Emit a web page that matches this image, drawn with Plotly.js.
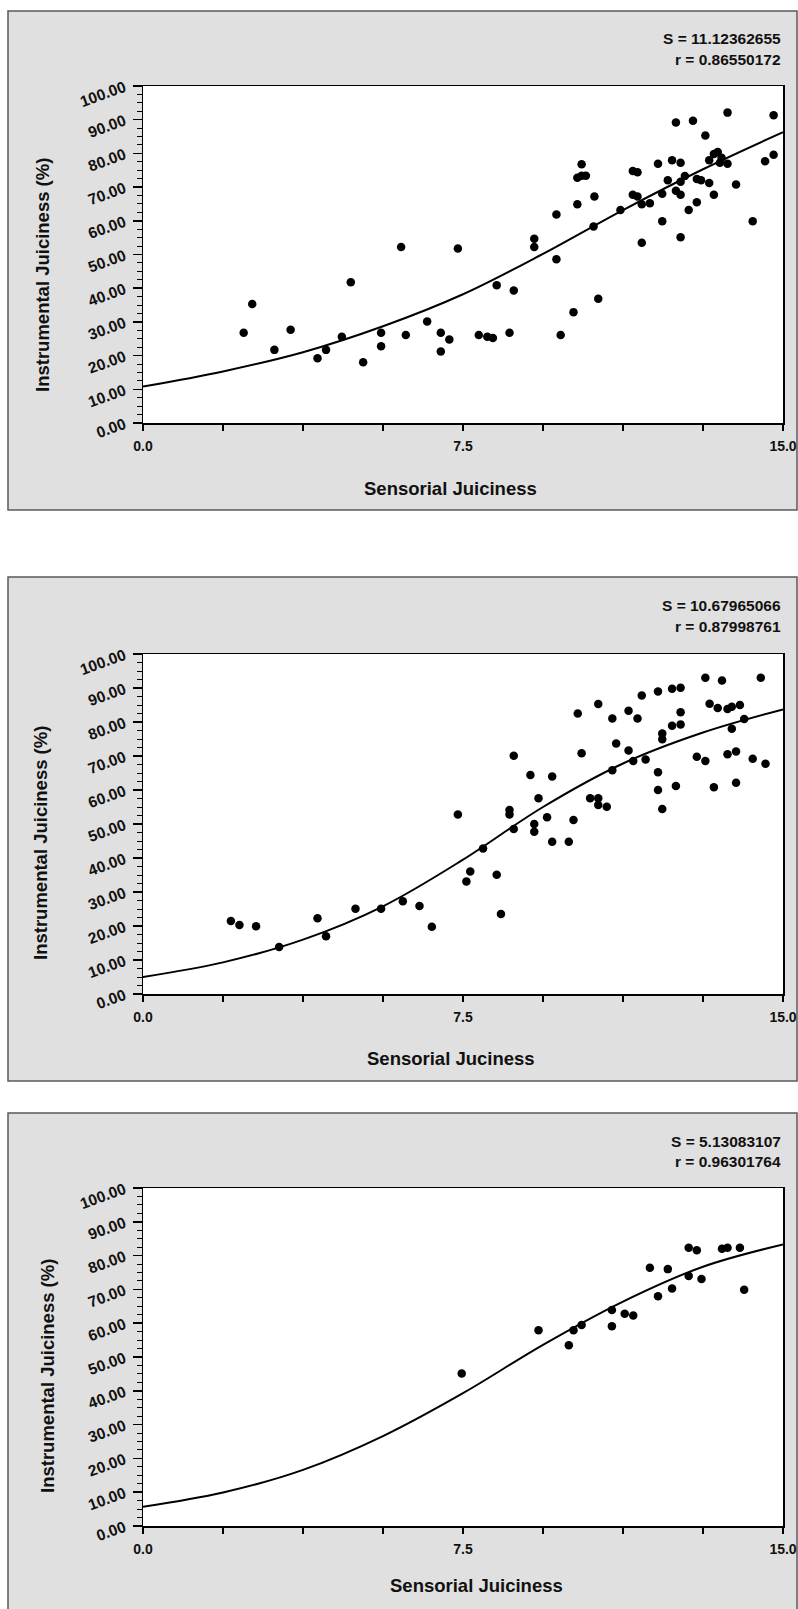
<!DOCTYPE html>
<html>
<head>
<meta charset="utf-8">
<script src="https://cdn.plot.ly/plotly-3.0.1.min.js"></script>
<style>html,body{margin:0;padding:0;background:#fff;}#chart{width:798px;height:1609px;}</style>
</head>
<body>
<div id="chart"></div>
<script>
// ---------- data ----------
const xTickVals = [0, 1.875, 3.75, 5.625, 7.5, 9.375, 11.25, 13.125, 15];
const xTickText = ["0.0", "", "", "", "7.5", "", "", "", "15.0"];

// Panel 1
const p1x = [2.36,2.56,3.08,3.46,4.09,4.29,4.66,4.87,5.16,5.58,
             5.58,6.05,6.16,6.66,6.98,6.98,7.18,7.38,7.87,8.07,
             8.20,8.29,8.59,8.69,9.17,9.17,9.69,9.69,9.79,10.09,
             10.18,10.18,10.28,10.28,10.38,10.58,10.56,10.67,11.19,11.48,
             11.59,11.48,11.59,11.69,11.69,11.88,12.07,12.17,12.17,12.30,
             12.40,12.49,12.49,12.60,12.60,12.60,12.60,12.70,12.79,12.89,
             12.98,12.98,13.08,13.18,13.27,13.27,13.38,13.38,13.47,13.56,
             13.52,13.70,13.70,13.90,14.29,14.58,14.78,14.78];
const p1y = [26.8,35.3,21.7,27.7,19.2,21.7,25.6,41.8,18.0,26.8,
             22.8,52.2,26.1,30.1,26.8,21.2,24.8,51.8,26.1,25.6,
             25.2,40.9,26.8,39.3,54.7,52.2,61.9,48.6,26.1,32.9,
             64.9,72.8,76.8,73.4,73.4,67.2,58.3,36.9,63.2,74.8,
             74.4,67.7,67.2,64.9,53.5,65.2,76.9,68.0,59.9,72.0,
             78.0,89.2,68.9,77.2,71.6,67.7,55.1,73.3,63.2,89.7,
             72.4,65.5,72.0,85.3,71.2,78.0,67.7,79.8,80.4,78.7,
             77.2,92.1,76.9,70.8,59.9,77.7,91.3,79.6];
const fitX = [0, 1.875, 3.75, 5.625, 7.5, 9.375, 11.25, 13.125, 15];
const fit1 = [10.8, 15.3, 21.0, 28.7, 38.2, 50.2, 63.2, 75.3, 86.3];
const stat1 = ["S = 11.12362655", "r = 0.86550172"];

// Panel 2
const p2x = [2.06,2.26,2.65,3.19,4.09,4.29,4.98,5.58,6.09,
             6.48,6.77,7.38,7.58,7.67,7.97,8.29,8.39,8.59,8.59,
             8.69,8.69,9.08,9.17,9.17,9.27,9.47,9.59,9.59,9.98,
             10.09,10.19,10.28,10.48,10.67,10.67,10.67,10.87,11.00,11.00,
             11.09,11.38,11.38,11.49,11.59,11.69,11.78,12.07,12.07,12.07,
             12.17,12.17,12.17,12.40,12.40,12.49,12.60,12.60,12.60,12.98,
             13.18,13.18,13.28,13.38,13.47,13.57,13.70,13.70,13.80,13.80,
             13.90,13.90,13.99,14.09,14.29,14.48,14.59];
const p2y = [21.5,20.3,19.9,13.8,22.3,17.0,25.1,25.1,27.3,
             25.9,19.8,52.8,33.1,36.0,42.8,35.1,23.5,54.1,52.8,
             70.1,48.5,64.4,50.0,47.7,57.6,52.0,64.0,44.8,44.8,
             51.2,82.5,70.8,57.6,85.3,57.6,55.6,55.1,81.0,65.8,
             73.7,83.3,71.6,68.5,81.0,87.8,69.0,89.0,65.2,60.0,
             76.6,74.9,54.4,89.8,78.9,61.2,90.1,82.9,79.3,69.8,
             93.0,68.5,85.4,60.8,84.1,92.2,83.8,70.5,84.5,78.0,
             71.3,62.1,85.0,80.9,69.2,93.0,67.7];
const fit2 = [5.0, 9.3, 16.0, 25.8, 39.5, 55.0, 67.8, 76.9, 83.7];
const stat2 = ["S = 10.67965066", "r = 0.87998761"];

// Panel 3
const p3x = [7.47,9.27,9.98,10.09,10.28,10.99,10.99,11.29,11.49,11.88,
             12.07,12.30,12.40,12.79,12.79,12.98,13.09,13.57,13.70,13.99,14.09];
const p3y = [45.1,57.9,53.5,57.9,59.5,63.9,59.1,62.8,62.3,76.4,
             68.0,76.0,70.3,82.3,74.0,81.6,73.1,82.0,82.3,82.3,69.9];
const fit3 = [5.7, 9.9, 16.6, 26.6, 39.3, 53.6, 66.4, 76.7, 83.3];
const stat3 = ["S = 5.13083107", "r = 0.96301764"];

const yTitle = "Instrumental Juiciness (%)";
const xTitles = ["Sensorial Juiciness", "Sensorial Juciness", "Sensorial Juiciness"];

// ---------- layout geometry (pixels) ----------
const W = 798, H = 1609;
const px = v => v / W;
const py = v => 1 - v / H;
const FONT = "Liberation Sans, Arial, Helvetica, sans-serif";

const panels = [
  {x: p1x, y: p1y, fit: fit1, stat: stat1, xt: xTitles[0], plot: [143, 783, 86, 423],   box: [8, 797, 11, 510],    statY: [38, 59],     xtY: 488,  xtX: 450, ytX: 42, ytY: 275},
  {x: p2x, y: p2y, fit: fit2, stat: stat2, xt: xTitles[1], plot: [143, 783, 654, 994],  box: [8, 797, 577, 1081],  statY: [605, 626],   xtY: 1058, xtX: 451, ytX: 41, ytY: 843},
  {x: p3x, y: p3y, fit: fit3, stat: stat3, xt: xTitles[2], plot: [143, 783, 1188, 1526], box: [8, 797, 1113, 1650], statY: [1141, 1161], xtY: 1585, xtX: 476, ytX: 47, ytY: 1376}
];

const traces = [];
const layout = {
  width: W, height: H, autosize: false,
  margin: {l: 0, r: 0, t: 0, b: 0, pad: 0},
  paper_bgcolor: "#ffffff", plot_bgcolor: "rgba(0,0,0,0)",
  showlegend: false,
  font: {family: FONT, color: "#000", weight: "bold"},
  shapes: [], annotations: []
};

panels.forEach((p, i) => {
  const n = i === 0 ? "" : String(i + 1);
  const xa = "x" + n, ya = "y" + n;
  traces.push({
    type: "scatter", mode: "markers", x: p.x, y: p.y, xaxis: xa, yaxis: ya,
    marker: {color: "#000", size: 8.5, line: {width: 0}}, cliponaxis: false
  });
  traces.push({
    type: "scatter", mode: "lines", x: fitX, y: p.fit, xaxis: xa, yaxis: ya,
    line: {color: "#000", width: 2, shape: "spline", smoothing: 1}
  });
  const [l, r, t, b] = p.plot;
  layout["xaxis" + n] = {
    domain: [px(l), px(r)], anchor: ya, range: [0, 15],
    tickmode: "array", tickvals: xTickVals, ticktext: xTickText,
    ticks: "outside", ticklen: 6, tickwidth: 1.5, tickcolor: "#000",
    ticklabelstandoff: 4,
    showline: true, linewidth: 1.5, linecolor: "#000", mirror: true,
    showgrid: false, zeroline: false, fixedrange: true,
    tickfont: {family: FONT, size: 14, color: "#111", weight: "bold"}
  };
  layout["yaxis" + n] = {
    domain: [py(b), py(t)], anchor: xa, range: [0, 100],
    tickmode: "linear", tick0: 0, dtick: 10, tickformat: ".2f",
    ticks: "outside", ticklen: 9, tickwidth: 1.5, tickcolor: "#000",
    minor: {dtick: 2.5, ticks: "outside", ticklen: 5, tickwidth: 1, tickcolor: "#000", showgrid: false},
    tickangle: -20, ticklabelstandoff: 5,
    showline: true, linewidth: 1.5, linecolor: "#000", mirror: true,
    showgrid: false, zeroline: false, fixedrange: true,
    tickfont: {family: FONT, size: 15.5, color: "#111", weight: "bold"}
  };
  const [bl, br, bt, bb] = p.box;
  layout.shapes.push({type: "rect", xref: "paper", yref: "paper", layer: "below",
    x0: px(bl), x1: px(br), y0: py(bb), y1: py(bt),
    fillcolor: "#e0e0e0", line: {color: "#5a5a5a", width: 1.5}});
  layout.shapes.push({type: "rect", xref: "paper", yref: "paper", layer: "below",
    x0: px(l), x1: px(r), y0: py(b), y1: py(t),
    fillcolor: "#ffffff", line: {width: 0}});
  p.stat.forEach((s, k) => {
    layout.annotations.push({xref: "paper", yref: "paper", x: px(r), y: py(p.statY[k]),
      xanchor: "right", yanchor: "middle", showarrow: false, text: s,
      font: {family: FONT, size: 15.5, color: "#111", weight: "bold"}});
  });
  layout.annotations.push({xref: "paper", yref: "paper", x: px(p.xtX), y: py(p.xtY),
    xanchor: "center", yanchor: "middle", showarrow: false, text: p.xt,
    font: {family: FONT, size: 18.5, color: "#111", weight: "bold"}});
  layout.annotations.push({xref: "paper", yref: "paper", x: px(p.ytX), y: py(p.ytY),
    xanchor: "center", yanchor: "middle", showarrow: false, text: yTitle, textangle: -90,
    font: {family: FONT, size: 18.5, color: "#111", weight: "bold"}});
});

Plotly.newPlot("chart", traces, layout, {staticPlot: true, displayModeBar: false});
</script>
</body>
</html>
